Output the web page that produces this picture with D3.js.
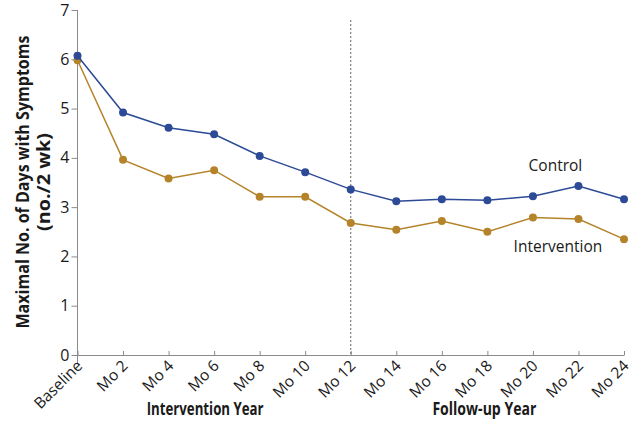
<!DOCTYPE html>
<html><head><meta charset="utf-8">
<script src="https://cdn.jsdelivr.net/npm/d3@7/dist/d3.min.js"></script>
<style>body{margin:0;background:#fff}svg{display:block}text{font-family:"Open Sans",sans-serif;fill:#1a1a1a}</style>
</head><body><svg id="c" width="632" height="436"></svg>
<script>
const categories = ["Baseline","Mo 2","Mo 4","Mo 6","Mo 8","Mo 10","Mo 12","Mo 14","Mo 16","Mo 18","Mo 20","Mo 22","Mo 24"];
const controlValues = [6.07,4.92,4.61,4.48,4.04,3.71,3.36,3.12,3.16,3.14,3.22,3.43,3.16];
const interventionValues = [5.98,3.96,3.58,3.75,3.21,3.21,2.68,2.54,2.72,2.50,2.79,2.76,2.35];
const yTicks = [0,1,2,3,4,5,6,7];
const seriesNames = ["Control","Intervention"];
const periodLabels = ["Intervention Year","Follow-up Year"];

const svg = d3.select("#c");
const x = d3.scalePoint().domain(categories).range([77.5,624]);
const y = d3.scaleLinear().domain([0,7]).range([355,10]);
const axisColor = "#8a8a8a";

// y axis
const ya = svg.append("g").attr("transform","translate(77.5,0)")
  .call(d3.axisLeft(y).tickValues(yTicks).tickSize(6).tickPadding(2).tickFormat(d3.format("d")));
ya.select(".domain").remove();
ya.selectAll("line").attr("stroke",axisColor);
ya.selectAll("text").style("font-size","16px").attr("fill","#1a1a1a");
svg.append("line").attr("x1",77.5).attr("x2",77.5).attr("y1",y(7)).attr("y2",363).attr("stroke",axisColor);

// x axis
const xa = svg.append("g").attr("transform","translate(0,355)")
  .call(d3.axisBottom(x).tickSize(-4).tickSizeOuter(0).tickFormat(""));
xa.select(".domain").attr("stroke",axisColor);
xa.selectAll("line").attr("stroke",axisColor);
svg.append("g").selectAll("text").data(categories).join("text")
  .attr("transform",d=>`translate(${x(d)+2},${363}) rotate(-45)`)
  .attr("text-anchor","end").attr("dy","0.35em")
  .style("font-size","15.5px").text(d=>d);

// dashed separator
svg.append("line").attr("x1",x("Mo 12")).attr("x2",x("Mo 12")).attr("y1",20).attr("y2",355)
  .attr("stroke","#666").attr("stroke-dasharray","2,2").attr("stroke-width",1);

// period labels
svg.append("text").attr("x",x("Mo 6")-9).attr("y",415).attr("text-anchor","middle")
  .attr("textLength",117).attr("lengthAdjust","spacingAndGlyphs")
  .style("font-size","17px").style("font-weight","bold").text(periodLabels[0]);
svg.append("text").attr("x",x("Mo 18")-3).attr("y",415).attr("text-anchor","middle")
  .attr("textLength",104).attr("lengthAdjust","spacingAndGlyphs")
  .style("font-size","17px").style("font-weight","bold").text(periodLabels[1]);

// y title
const yt = svg.append("text").attr("transform","translate(29,182) rotate(-90)").attr("text-anchor","middle")
  .style("font-size","17px").style("font-weight","bold");
yt.append("tspan").attr("x",0).attr("dy",0).attr("textLength",293).attr("lengthAdjust","spacingAndGlyphs")
  .text("Maximal No. of Days with Symptoms");
yt.append("tspan").attr("x",0).attr("dy",21).attr("textLength",98).attr("lengthAdjust","spacingAndGlyphs")
  .text("(no./2 wk)");

// series
const series = [
  {name:seriesNames[0], values:controlValues, color:"#2c4a96"},
  {name:seriesNames[1], values:interventionValues, color:"#b5842a"}
];
const line = d3.line().x((d,i)=>x(categories[i])).y(d=>y(d));
series.slice().reverse().forEach(s=>{
  svg.append("path").datum(s.values).attr("d",line).attr("fill","none")
    .attr("stroke",s.color).attr("stroke-width",1.5);
  svg.append("g").selectAll("circle").data(s.values).join("circle")
    .attr("cx",(d,i)=>x(categories[i])).attr("cy",d=>y(d)).attr("r",4).attr("fill",s.color);
});

// series labels
svg.append("text").attr("x",x("Mo 22")-23).attr("y",171).attr("text-anchor","middle")
  .style("font-size","15.5px").text(seriesNames[0]);
svg.append("text").attr("x",x("Mo 20")+25).attr("y",252).attr("text-anchor","middle")
  .style("font-size","15.5px").text(seriesNames[1]);
</script></body></html>
